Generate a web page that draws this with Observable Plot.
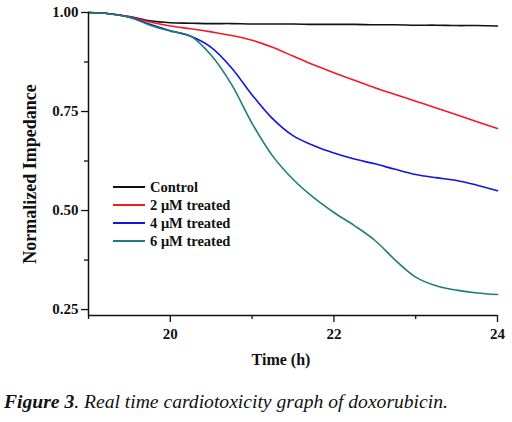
<!DOCTYPE html>
<html>
<head>
<meta charset="utf-8">
<script src="https://cdn.jsdelivr.net/npm/d3@7"></script>
<script src="https://cdn.jsdelivr.net/npm/@observablehq/plot@0.6"></script>
<style>
  html, body { margin: 0; padding: 0; background: #fff; }
  #wrap { position: relative; width: 512px; height: 422px; font-family: "Liberation Serif", "Times New Roman", "DejaVu Serif", serif; }
  #legend { position: absolute; left: 113px; top: 178px; font-weight: bold; font-size: 14.5px; color: #111; }
  .item { display: flex; align-items: center; height: 18px; }
  .swatch { display: inline-block; width: 32px; height: 2px; margin-right: 5px; }
  #caption { position: absolute; left: 4px; top: 390px; font-size: 19.6px; line-height: 24px; font-style: italic; color: #111; white-space: nowrap; }
</style>
</head>
<body>
<div id="wrap"><div id="chart"></div><div id="legend"></div><div id="caption"><b>Figure 3</b>. Real time cardiotoxicity graph of doxorubicin.</div></div>
<script>
const times = [19, 19.25, 19.5, 19.75, 20, 20.25, 20.5, 20.75, 21, 21.25, 21.5, 21.75, 22, 22.25, 22.5, 22.75, 23, 23.25, 23.5, 23.75, 24];
const control = [1.000, 0.997, 0.990, 0.979, 0.974, 0.973, 0.972, 0.972, 0.971, 0.971, 0.971, 0.970, 0.970, 0.970, 0.969, 0.969, 0.968, 0.968, 0.967, 0.967, 0.966];
const treated2 = [1.000, 0.997, 0.989, 0.976, 0.966, 0.959, 0.951, 0.942, 0.930, 0.912, 0.890, 0.868, 0.848, 0.829, 0.810, 0.793, 0.776, 0.759, 0.742, 0.724, 0.707];
const treated4 = [1.000, 0.997, 0.988, 0.970, 0.954, 0.940, 0.912, 0.860, 0.792, 0.732, 0.689, 0.664, 0.645, 0.630, 0.618, 0.604, 0.591, 0.583, 0.576, 0.564, 0.550];
const treated6 = [1.000, 0.997, 0.988, 0.968, 0.953, 0.940, 0.892, 0.818, 0.720, 0.638, 0.579, 0.533, 0.495, 0.462, 0.425, 0.375, 0.332, 0.310, 0.299, 0.292, 0.288];
const seriesNames = ["Control", "2 \u03bcM treated", "4 \u03bcM treated", "6 \u03bcM treated"];
const seriesColors = ["#111111", "#ee1c24", "#1414dc", "#1d7f79"];
const xDomain = [19, 24];
const yDomain = [0.235, 1.0];
const xTicks = [20, 22, 24];
const xMinorTicks = [19, 21, 23];
const yTicks = [0.25, 0.50, 0.75, 1.00];
const yMinorTicks = [0.375, 0.625, 0.875];
const xLabel = "Time (h)";
const yLabel = "Normalized Impedance";

const allSeries = [control, treated2, treated4, treated6];
const rows = [];
allSeries.forEach((vals, i) => vals.forEach((v, j) => rows.push({t: times[j], v, s: seriesNames[i]})));

const font = "'Liberation Serif', 'Times New Roman', 'DejaVu Serif', serif";
const chart = Plot.plot({
  width: 512,
  height: 372,
  marginLeft: 88,
  marginRight: 15,
  marginTop: 12,
  marginBottom: 57,
  style: {fontFamily: font, background: "white", color: "#111"},
  x: {domain: xDomain},
  y: {domain: yDomain},
  color: {domain: seriesNames, range: seriesColors},
  marks: [
    Plot.line(rows, {x: "t", y: "v", z: "s", stroke: "s", strokeWidth: 1.6, curve: "catmull-rom"}),
    Plot.ruleX([xDomain[0]], {stroke: "#111", strokeWidth: 1.5}),
    Plot.ruleY([yDomain[0]], {stroke: "#111", strokeWidth: 1.5}),
    Plot.axisX({ticks: xTicks, tickSize: 7, tickPadding: 6, tickFormat: d3.format("d"), fontSize: 15, fontWeight: "bold", label: null, strokeWidth: 1.3}),
    Plot.axisX({ticks: xMinorTicks, tickSize: 4, tickFormat: () => "", label: null, strokeWidth: 1.3}),
    Plot.axisY({ticks: yTicks, tickSize: 7, tickPadding: 3, tickFormat: d3.format(".2f"), fontSize: 15, fontWeight: "bold", label: null, strokeWidth: 1.3}),
    Plot.axisY({ticks: yMinorTicks, tickSize: 4, tickFormat: () => "", label: null, strokeWidth: 1.3}),
    Plot.text([xLabel], {frameAnchor: "bottom", textAnchor: "middle", lineAnchor: "middle", dy: 44, dx: -12, fontSize: 16, fontWeight: "bold", text: d => d}),
    Plot.text([yLabel], {frameAnchor: "left", textAnchor: "middle", lineAnchor: "middle", rotate: -90, dx: -58, dy: 10, fontSize: 18, fontWeight: "bold", text: d => d})
  ]
});
document.getElementById("chart").appendChild(chart);

const legend = document.getElementById("legend");
seriesNames.forEach((n, i) => {
  const item = document.createElement("div");
  item.className = "item";
  const sw = document.createElement("span");
  sw.className = "swatch";
  sw.style.background = seriesColors[i];
  const tx = document.createElement("span");
  tx.textContent = n;
  item.appendChild(sw);
  item.appendChild(tx);
  legend.appendChild(item);
});
</script>
</body>
</html>
